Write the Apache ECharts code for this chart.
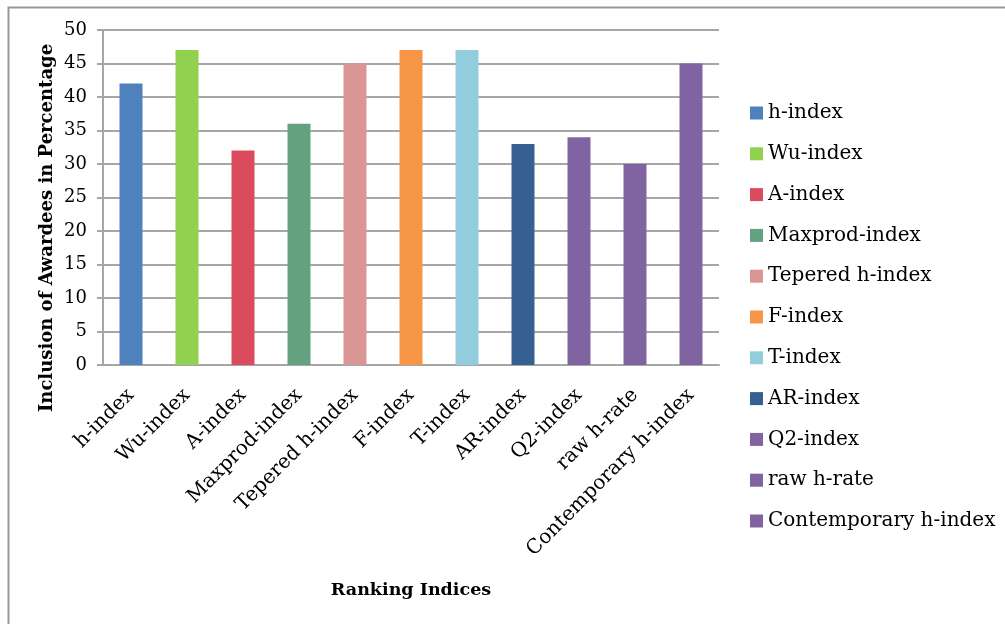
<!DOCTYPE html>
<html>
<head>
<meta charset="utf-8">
<script src="https://cdn.jsdelivr.net/npm/echarts@6/dist/echarts.min.js"></script>
<style>
html, body { margin: 0; padding: 0; background: #fff; }
#chart { width: 1005px; height: 624px; }
</style>
</head>
<body>
<div id="chart"></div>
<script>
// categories and values
const categories = ['h-index', 'Wu-index', 'A-index', 'Maxprod-index', 'Tepered h-index',
    'F-index', 'T-index', 'AR-index', 'Q2-index', 'raw h-rate', 'Contemporary h-index'];
const values = [42, 47, 32, 36, 45, 47, 47, 33, 34, 30, 45];
const colors = ['#4F81BD', '#92D050', '#DA4B5E', '#64A17E', '#D99694',
    '#F79646', '#93CDDD', '#366092', '#8064A2', '#8064A2', '#8064A2'];
const yTicks = { min: 0, max: 50, interval: 5 };

const font = '"DejaVu Serif", "Liberation Serif", serif';

let chart = echarts.init(document.getElementById('chart'));

// one series per category so each one gets its own legend entry
let series = [];
categories.forEach((name, i) => {
    let data = categories.map((c, j) => (j === i ? values[i] : '-'));
    series.push({
        name: name,
        type: 'bar',
        stack: 'all',
        barWidth: 23,
        itemStyle: { color: colors[i] },
        data: data
    });
});

let options = {
    backgroundColor: '#ffffff',
    animation: false,
    graphic: [
        {
            type: 'rect',
            shape: { x: 8.5, y: 7.5, width: 1010, height: 630 },
            style: { fill: 'none', stroke: '#999', lineWidth: 2 }
        },
        {
            type: 'text',
            x: 47,
            y: 228,
            rotation: Math.PI / 2,
            style: {
                text: 'Inclusion of Awardees in Percentage',
                fontFamily: font, fontWeight: 'bold', fontSize: 18, fill: '#000',
                align: 'center', verticalAlign: 'middle'
            }
        },
        {
            type: 'text',
            x: 411,
            y: 590,
            style: {
                text: 'Ranking Indices',
                fontFamily: font, fontWeight: 'bold', fontSize: 17.5, fill: '#000',
                align: 'center', verticalAlign: 'middle'
            }
        }
    ],
    legend: {
        orient: 'vertical',
        left: 750,
        top: 103,
        padding: 0,
        itemWidth: 13,
        itemHeight: 13,
        itemGap: 20.8,
        icon: 'rect',
        textStyle: { fontFamily: font, fontSize: 20, color: '#000', lineHeight: 20 },
        data: categories
    },
    grid: {
        left: 103,
        right: 286,
        top: 30,
        bottom: 259,
        containLabel: false
    },
    xAxis: {
        type: 'category',
        data: categories,
        axisLine: { lineStyle: { color: '#a6a6a6', width: 2 } },
        axisTick: { show: false },
        axisLabel: {
            rotate: 45,
            interval: 0,
            margin: 27,
            fontFamily: font,
            fontSize: 20,
            color: '#000'
        }
    },
    yAxis: {
        type: 'value',
        min: yTicks.min,
        max: yTicks.max,
        interval: yTicks.interval,
        axisLine: { show: true, lineStyle: { color: '#a6a6a6', width: 2 } },
        axisTick: { show: true, length: 6, lineStyle: { color: '#a6a6a6', width: 2 } },
        splitLine: { lineStyle: { color: '#a6a6a6', width: 2 } },
        axisLabel: { fontFamily: font, fontSize: 18, color: '#000', margin: 16 }
    },
    series: series
};

chart.setOption(options);
</script>
</body>
</html>
